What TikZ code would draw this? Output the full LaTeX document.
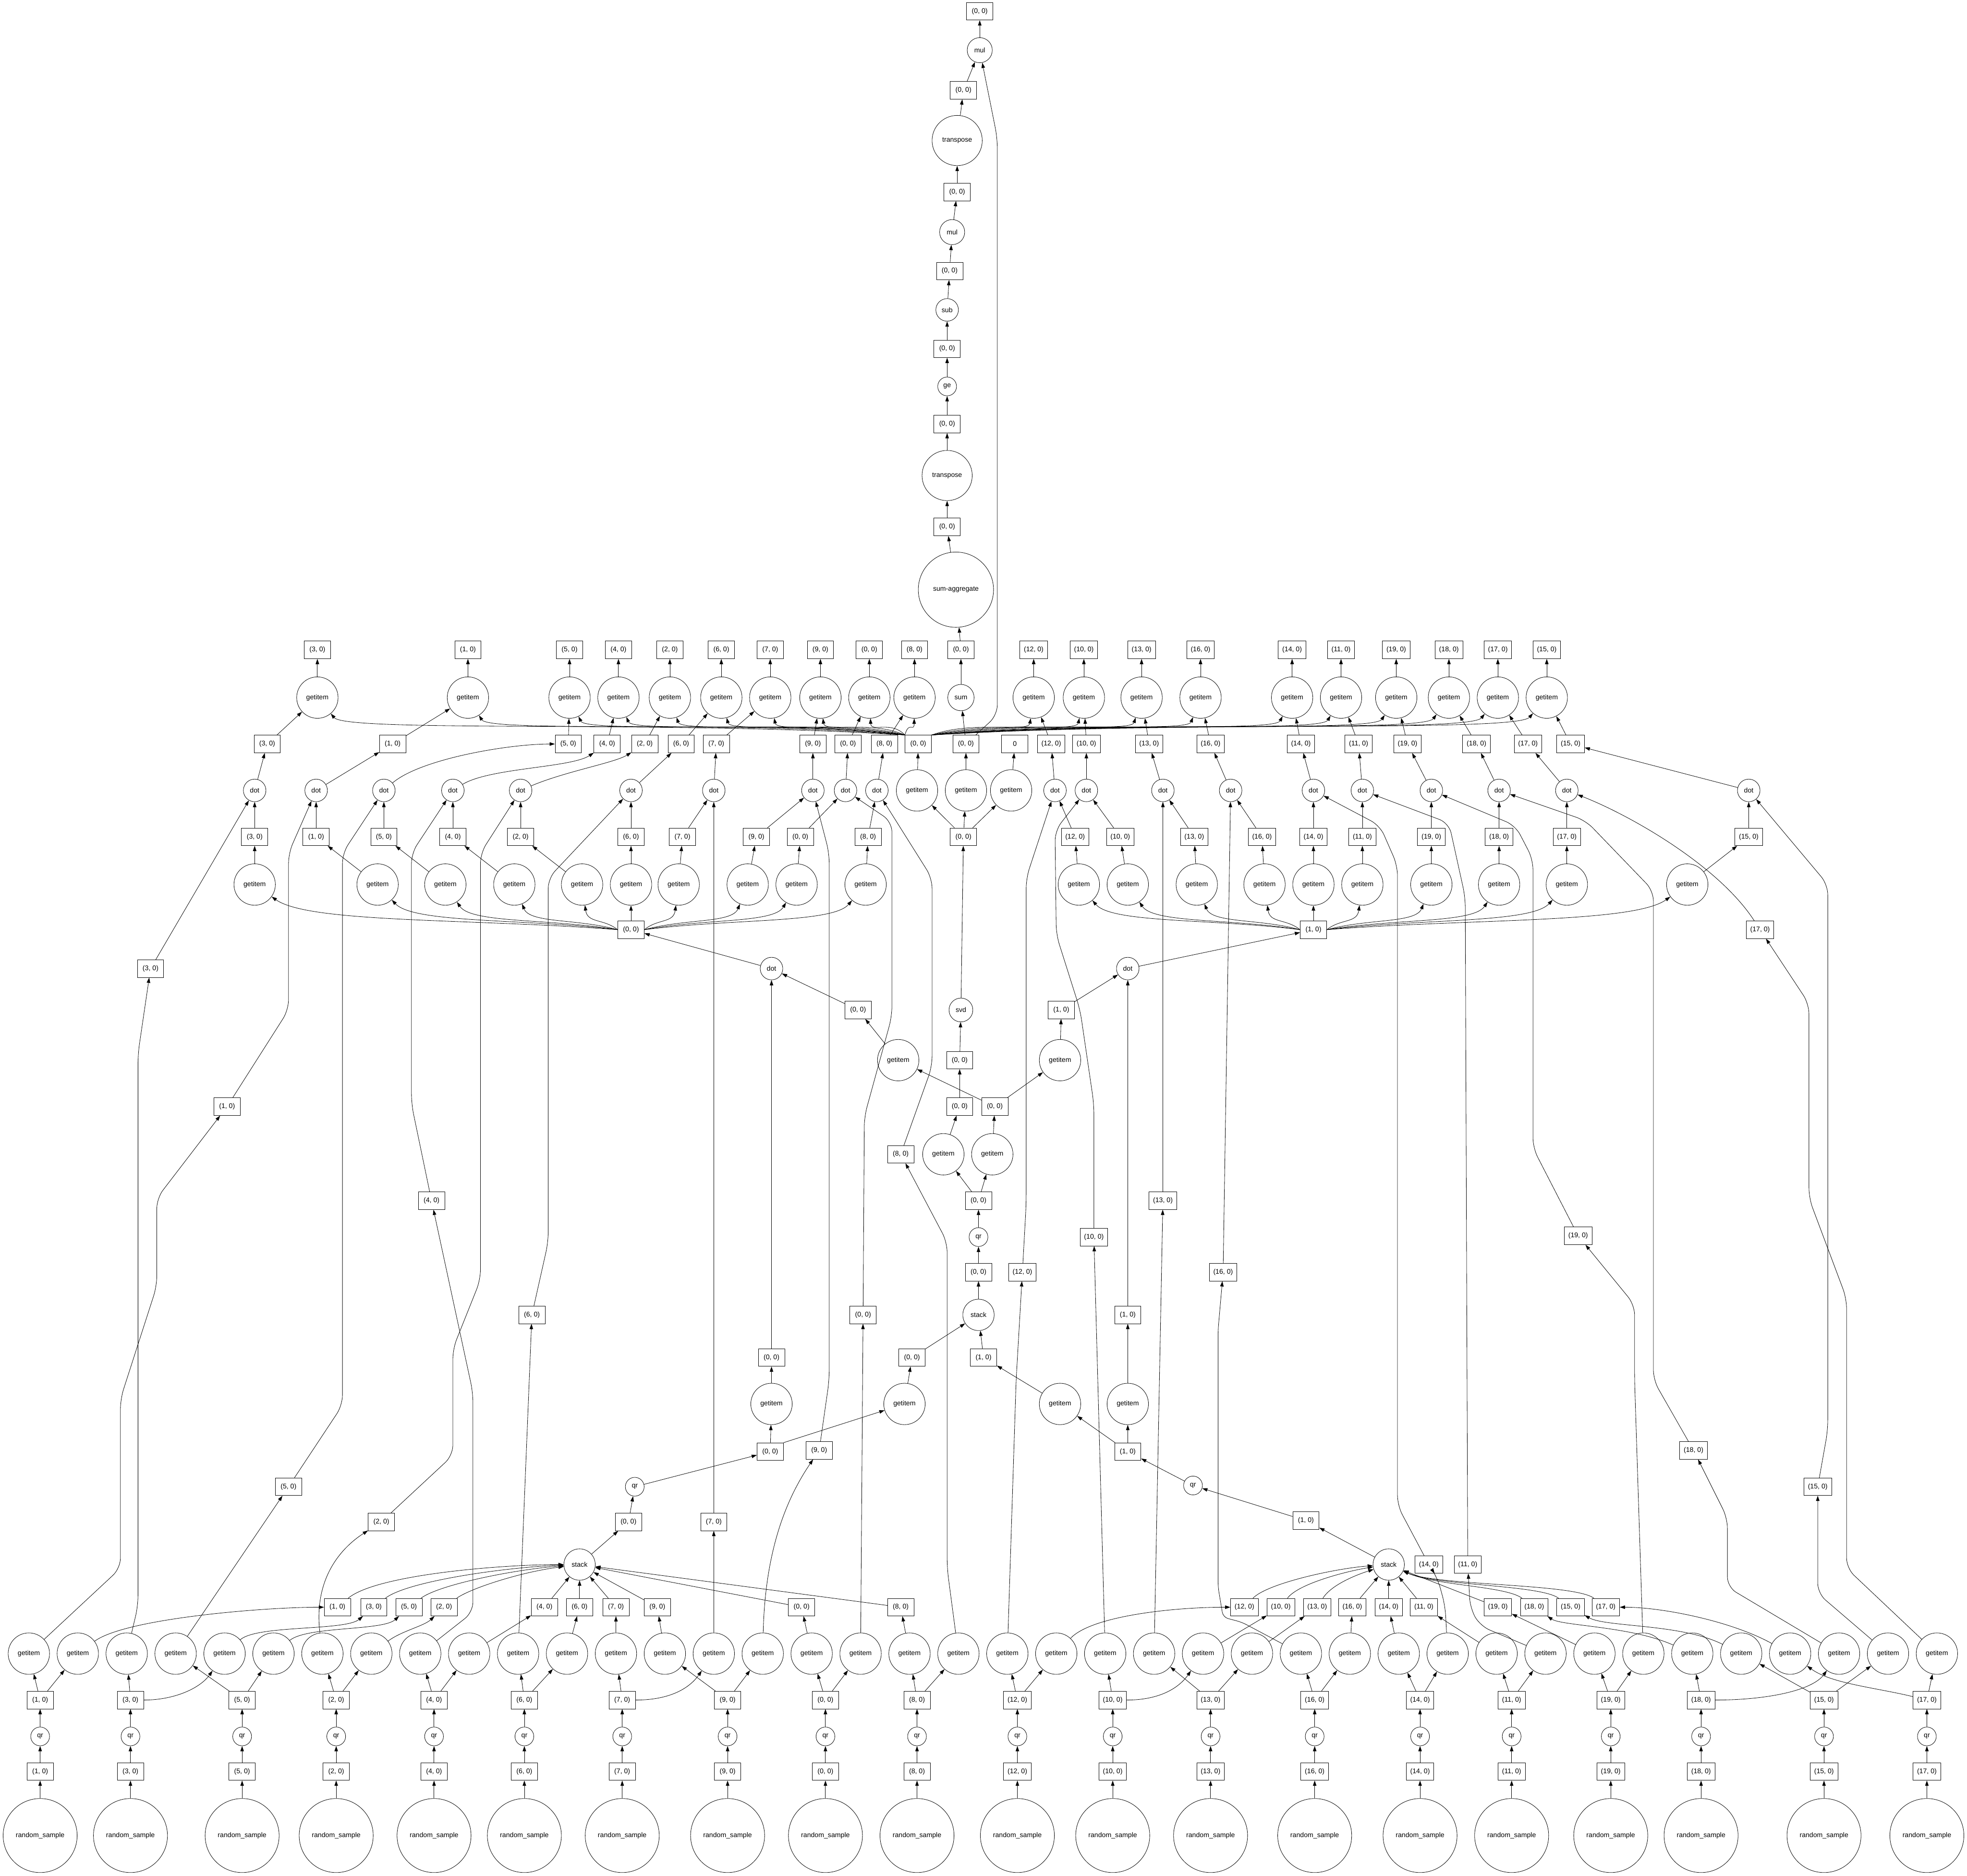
\documentclass[tikz,border=0pt]{standalone}
\usepackage{fontspec}
\setmainfont{Liberation Sans}
\usetikzlibrary{arrows.meta,calc}
\newcommand{\dgfont}{\fontsize{7.7}{9}\selectfont}

\begin{document}
\begin{tikzpicture}[x=0.5mm, y=-0.5mm,
  box/.style={draw, rectangle, line width=0.45pt, minimum width=10.5mm, minimum height=7mm,
    inner xsep=1.6mm, inner ysep=0pt, font=\dgfont},
  fn/.style={draw, circle, line width=0.45pt, inner sep=0pt, font=\dgfont},
  gi/.style={fn, minimum size=16.5mm},
  dotn/.style={fn, minimum size=9mm},
  qrn/.style={fn, minimum size=7.5mm},
  stk/.style={fn, minimum size=12.5mm},
  rsamp/.style={fn, minimum size=29.5mm},
  arr/.style={-{Triangle[length=2.1mm, width=1.4mm]}, line width=0.45pt},
  lane/.style={arr, rounded corners=4mm}]
\useasboundingbox (0,0) rectangle (1568,1495);

% final chain
\node[box] (t0) at (781,9) {(0, 0)};
\node[fn, minimum size=10mm] (tmul) at (781,40) {mul};
\node[box] (t1) at (768,72) {(0, 0)};
\node[fn, minimum size=20mm] (ttr) at (763,112) {transpose};
\node[box] (t2) at (763,153) {(0, 0)};
\node[fn, minimum size=10mm] (tmul2) at (759,185) {mul};
\node[box] (t3) at (757,216) {(0, 0)};
\node[fn, minimum size=9mm] (tsub) at (755,247) {sub};
\node[box] (t4) at (755,278) {(0, 0)};
\node[fn, minimum size=7.5mm] (tge) at (755,308) {ge};
\node[box] (t5) at (755,338) {(0, 0)};
\node[fn, minimum size=20mm] (ttr2) at (755,379) {transpose};
\node[box] (t6) at (755,420) {(0, 0)};
\node[fn, minimum size=30mm] (tagg) at (762,470) {sum-aggregate};
\node[box] (t7) at (766,518) {(0, 0)};
\node[fn, minimum size=10.5mm] (tsum) at (766,556) {sum};
\node[box] (t8) at (770,593) {(0, 0)};
\draw[arr] (t8) -- (tsum);
\draw[arr] (tsum) -- (t7);
\draw[arr] (t7) -- (tagg);
\draw[arr] (tagg) -- (t6);
\draw[arr] (t6) -- (ttr2);
\draw[arr] (ttr2) -- (t5);
\draw[arr] (t5) -- (tge);
\draw[arr] (tge) -- (t4);
\draw[arr] (t4) -- (tsub);
\draw[arr] (tsub) -- (t3);
\draw[arr] (t3) -- (tmul2);
\draw[arr] (tmul2) -- (t2);
\draw[arr] (t2) -- (ttr);
\draw[arr] (ttr) -- (t1);
\draw[arr] (t1) -- (tmul);
\draw[arr] (tmul) -- (t0);
\draw[lane] (t8) -- (795,570) -- (795,110) -- (tmul);

% svd part
\node[box] (hub0) at (732,593) {(0, 0)};
\node[box] (zero) at (809,593) {0};
\node[gi] (gH) at (731,630) {getitem};
\node[gi] (gA) at (770,630) {getitem};
\node[gi] (gZ) at (806,630) {getitem};
\node[box] (s0) at (768,667) {(0, 0)};
\node[box] (hubA) at (503,741) {(0, 0)};
\node[box] (hubB) at (1047,741) {(1, 0)};
\node[dotn] (dotL) at (615,772) {dot};
\node[dotn] (dotR) at (899,772) {dot};
\node[box] (bL) at (684,805) {(0, 0)};
\node[fn, minimum size=9.5mm] (svd) at (766,805) {svd};
\node[box] (bR) at (846,805) {(1, 0)};
\node[gi] (gL) at (716,845) {getitem};
\node[box] (v1) at (765,845) {(0, 0)};
\node[gi] (gR) at (845,845) {getitem};
\node[box] (v2) at (765,882) {(0, 0)};
\node[box] (v3) at (793,882) {(0, 0)};
\node[gi] (gv2) at (752,920) {getitem};
\node[gi] (gv3) at (791,920) {getitem};
\node[box] (f0) at (780,957) {(0, 0)};
\node[qrn] (fqr) at (780,986) {qr};
\node[box] (f1) at (780,1014) {(0, 0)};
\node[stk] (fst) at (780,1048) {stack};
\node[box] (bB1) at (899,1048) {(1, 0)};
\node[box] (bA1) at (615,1082) {(0, 0)};
\node[box] (bA2) at (727,1082) {(0, 0)};
\node[box] (bB2) at (784,1082) {(1, 0)};
\node[gi] (gA1) at (615,1119) {getitem};
\node[gi] (gA2) at (721,1119) {getitem};
\node[gi] (gB2) at (845,1119) {getitem};
\node[gi] (gB1) at (899,1119) {getitem};
\node[box] (sA2) at (614,1157) {(0, 0)};
\node[box] (sB2) at (899,1157) {(1, 0)};
\node[qrn] (qrA) at (506,1185) {qr};
\node[qrn] (qrB) at (951,1184) {qr};
\node[box] (sA1) at (501,1213) {(0, 0)};
\node[box] (sB1) at (1041,1212) {(1, 0)};
\node[stk] (stA) at (462,1247) {stack};
\node[stk] (stB) at (1107,1247) {stack};

\draw[arr] (s0) -- (gH);
\draw[arr] (s0) -- (gA);
\draw[arr] (s0) -- (gZ);
\draw[arr] (gH) -- (hub0);
\draw[arr] (gA) -- (t8);
\draw[arr] (gZ) -- (zero);
\draw[arr] (svd) -- (s0);
\draw[arr] (v1) -- (svd);
\draw[arr] (v2) -- (v1);
\draw[arr] (gv2) -- (v2);
\draw[arr] (gv3) -- (v3);
\draw[arr] (v3) -- (gL);
\draw[arr] (v3) -- (gR);
\draw[arr] (gL) -- (bL);
\draw[arr] (bL) -- (dotL);
\draw[arr] (gR) -- (bR);
\draw[arr] (bR) -- (dotR);
\draw[arr] (dotL) -- (hubA);
\draw[arr] (dotR) -- (hubB);
\draw[arr] (f0) -- (gv2);
\draw[arr] (f0) -- (gv3);
\draw[arr] (fqr) -- (f0);
\draw[arr] (f1) -- (fqr);
\draw[arr] (fst) -- (f1);
\draw[arr] (bA2) -- (fst);
\draw[arr] (bB2) -- (fst);
\draw[arr] (gA2) -- (bA2);
\draw[arr] (gB2) -- (bB2);
\draw[arr] (gA1) -- (bA1);
\draw[arr] (bA1) -- (dotL);
\draw[arr] (gB1) -- (bB1);
\draw[arr] (bB1) -- (dotR);
\draw[arr] (sA2) -- (gA1);
\draw[arr] (sA2.north east) -- (gA2);
\draw[arr] (sB2) -- (gB1);
\draw[arr] (sB2) -- (gB2);
\draw[arr] (sA1) -- (qrA);
\draw[arr] (qrA) -- (sA2);
\draw[arr] (stA) -- (sA1);
\draw[arr] (sB1) -- (qrB);
\draw[arr] (qrB) -- (sB2);
\draw[arr] (stB) -- (sB1);

% blocks: random_sample -> qr
\foreach \k/\x in {1/32,3/104,5/193,2/268,4/346,6/418,7/496,9/580,0/658,8/731,
    12/811,10/887,13/965,16/1048,14/1132,11/1205,19/1284,18/1356,15/1454,17/1536}{
  \node[rsamp] (rs\k) at (\x,1463) {random\_sample};
  \node[box] (in\k) at (\x,1412) {(\k, 0)};
  \node[qrn] (qr\k) at (\x,1384) {qr};
  \node[box] (out\k) at (\x,1355) {(\k, 0)};
  \draw[arr] (rs\k) -- (in\k);
  \draw[arr] (in\k) -- (qr\k);
  \draw[arr] (qr\k) -- (out\k);
}
\foreach \k/\q/\r in {1/23/62,3/101/179,5/140/218,2/257/296,4/335/374,6/413/452,7/569/491,
    9/608/530,0/686/647,8/764/725,12/803/842,10/881/959,13/920/998,16/1037/1076,
    14/1154/1115,11/1232/1193,19/1310/1271,18/1466/1349,15/1505/1388,17/1544/1427}{
  \node[gi] (qg\k) at (\q,1318) {getitem};
  \node[gi] (rg\k) at (\r,1318) {getitem};
}
\foreach \a/\b in {out1/qg1,out1/rg1,out3/qg3,out5/qg5,out5/rg5,out2/qg2,out2/rg2,out4/qg4,
    out4/rg4,out6/qg6,out6/rg6,out7/rg7,out9/rg9,out9/qg9,out0/rg0,out0/qg0,out8/rg8,out8/qg8,
    out12/qg12,out12/rg12,out10/qg10,out13/qg13,out13/rg13,out16/qg16,out16/rg16,out14/rg14,
    out14/qg14,out11/rg11,out11/qg11,out19/rg19,out19/qg19,out18/rg18,out15/rg15,out15/qg15,
    out17/qg17}
  \draw[arr] (\a) -- (\b);
\draw[arr] (out3) .. controls (140,1355) and (160,1345) .. (rg3);
\draw[arr] (out7) .. controls (535,1355) and (550,1345) .. (qg7);
\draw[arr] (out10) .. controls (925,1355) and (940,1345) .. (rg10);
\draw[arr] (out18) .. controls (1410,1355) and (1445,1347) .. (qg18);
\draw[arr] (out17) .. controls (1495,1345) and (1460,1342) .. (rg17);

% R factors into the two stacks
\foreach \k/\x in {1/269,3/298,5/326,2/354,4/434,6/462,7/491,9/524,0/639,8/718,
    12/992,10/1021,13/1050,16/1078,14/1107,11/1135,19/1194,18/1223,15/1252,17/1280}
  \node[box] (R\k) at (\x,1281) {(\k, 0)};
\foreach \k in {4,6,7,9,0,8,10,13,16,14,11,19}
  \draw[arr] (rg\k) -- (R\k);
\draw[arr] (rg1) .. controls (100,1290) and (210,1281) .. (R1);
\draw[arr] (rg3) .. controls (205,1295) and (275,1300) .. (R3);
\draw[arr] (rg5) .. controls (245,1296) and (305,1300) .. (R5);
\draw[arr] (rg2) .. controls (320,1300) and (338,1296) .. (R2);
\draw[arr] (rg12) .. controls (870,1288) and (935,1281) .. (R12);
\draw[arr] (rg18) .. controls (1300,1296) and (1245,1296) .. (R18);
\draw[arr] (rg15) .. controls (1340,1294) and (1280,1297) .. (R15);
\draw[arr] (rg17) .. controls (1380,1292) and (1325,1281) .. (R17);
\foreach \k in {4,6,7,9,0,8}
  \draw[arr] (R\k) -- (stA);
\draw[arr] (R1) .. controls (300,1255) and (400,1247) .. (stA);
\draw[arr] (R3) .. controls (325,1260) and (405,1249) .. (stA);
\draw[arr] (R5) .. controls (350,1263) and (410,1251) .. (stA);
\draw[arr] (R2) .. controls (375,1266) and (415,1253) .. (stA);
\foreach \k in {16,14,11,19}
  \draw[arr] (R\k) -- (stB);
\draw[arr] (R12) .. controls (1010,1262) and (1065,1250) .. (stB);
\draw[arr] (R10) .. controls (1035,1262) and (1075,1252) .. (stB);
\draw[arr] (R13) .. controls (1062,1262) and (1085,1254) .. (stB);
\draw[arr] (R18) .. controls (1200,1264) and (1145,1264) .. (stB);
\draw[arr] (R15) .. controls (1228,1263) and (1145,1264) .. (stB);
\draw[arr] (R17) .. controls (1255,1262) and (1145,1264) .. (stB);

% upper rows: getitem, dot, getitem
\foreach \k/\tx/\ddx/\dx/\mx/\gx in {3/253/213/203/203/203,1/373/313/252/252/301,
    5/454/453/306/306/355,4/493/484/361/361/410,2/534/514/415/415/464,6/575/543/503/503/503,
    7/614/571/569/544/541,9/654/648/648/603/596,0/693/676/674/638/635,8/729/705/699/692/690,
    12/824/838/841/857/860,10/864/866/866/893/899,13/910/916/927/952/954,
    16/957/965/981/1006/1008,14/1030/1037/1047/1047/1047,11/1069/1083/1086/1086/1086,
    19/1113/1122/1141/1141/1141,18/1155/1177/1195/1195/1195,17/1194/1218/1249/1249/1249,
    15/1233/1252/1394/1394/1345}{
  \node[gi] (T\k) at (\tx,556) {getitem};
  \node[box] (L\k) at (\tx,518) {(\k, 0)};
  \node[box] (D\k) at (\ddx,593) {(\k, 0)};
  \node[dotn] (dot\k) at (\dx,630) {dot};
  \node[box] (M\k) at (\mx,667) {(\k, 0)};
  \node[gi] (G\k) at (\gx,705) {getitem};
  \draw[arr] (T\k) -- (L\k);
  \draw[arr] (D\k) -- (T\k);
  \draw[arr] (M\k) -- (dot\k);
  \draw[arr] (G\k) -- (M\k);
}
\foreach \k in {3,1,6,7,9,0,8,12,10,13,16,14,11,19,18,17,15}
  \draw[arr] (dot\k) -- (D\k);
\draw[arr] (dot5) .. controls (335,605) and (405,593) .. (D5);
\draw[arr] (dot4) .. controls (390,612) and (455,612) .. (D4);
\draw[arr] (dot2) .. controls (450,615) and (490,608) .. (D2);

% hubs fan out
\foreach \k/\tx in {3/253,1/373,5/454,4/493,2/534,6/575,7/614,9/654,0/693,8/729}{
  \pgfmathsetmacro\ca{721.5+0.4*(\tx-721.5)}
  \pgfmathsetmacro\cb{\tx+0.05*(721.5-\tx)}
  \draw[arr] (hub0.north west) .. controls (\ca,574) and (\cb,584) .. (T\k);
}
\foreach \k/\tx in {12/824,10/864,13/910,16/957,14/1030,11/1069,19/1113,18/1155,17/1194,15/1233}{
  \pgfmathsetmacro\ca{742.5+0.4*(\tx-742.5)}
  \pgfmathsetmacro\cb{\tx+0.05*(742.5-\tx)}
  \draw[arr] (hub0.north east) .. controls (\ca,574) and (\cb,584) .. (T\k);
}
\foreach \k/\gx in {3/203,1/301,5/355,4/410,2/464}{
  \pgfmathsetmacro\ca{492.5+0.4*(\gx-492.5)}
  \pgfmathsetmacro\cb{\gx+0.15*(492.5-\gx)}
  \draw[arr] (hubA.west) .. controls (\ca,732) and (\cb,736) .. (G\k);
}
\foreach \k/\gx in {7/541,9/596,0/635,8/690}{
  \pgfmathsetmacro\ca{513.5+0.4*(\gx-513.5)}
  \pgfmathsetmacro\cb{\gx+0.15*(513.5-\gx)}
  \draw[arr] (hubA.east) .. controls (\ca,732) and (\cb,736) .. (G\k);
}
\draw[arr] (hubA) -- (G6);
\foreach \k/\gx in {12/860,10/899,13/954,16/1008}{
  \pgfmathsetmacro\ca{1036.5+0.4*(\gx-1036.5)}
  \pgfmathsetmacro\cb{\gx+0.15*(1036.5-\gx)}
  \draw[arr] (hubB.west) .. controls (\ca,732) and (\cb,736) .. (G\k);
}
\foreach \k/\gx in {11/1086,19/1141,18/1195,17/1249,15/1345}{
  \pgfmathsetmacro\ca{1057.5+0.4*(\gx-1057.5)}
  \pgfmathsetmacro\cb{\gx+0.15*(1057.5-\gx)}
  \draw[arr] (hubB.east) .. controls (\ca,732) and (\cb,736) .. (G\k);
}
\draw[arr] (hubB) -- (G14);

% Q factors: long lanes up to the dots
\node[box] (Q3) at (120,772) {(3, 0)};
\node[box] (Q1) at (181,882) {(1, 0)};
\node[box] (Q4) at (344,957) {(4, 0)};
\node[box] (Q6) at (424,1048) {(6, 0)};
\node[box] (Q5) at (230,1185) {(5, 0)};
\node[box] (Q2) at (304,1213) {(2, 0)};
\node[box] (Q7) at (569,1213) {(7, 0)};
\node[box] (Q9) at (653,1156) {(9, 0)};
\node[box] (Q0) at (688,1048) {(0, 0)};
\node[box] (Q8) at (718,920) {(8, 0)};
\node[box] (Q12) at (815,1014) {(12, 0)};
\node[box] (Q10) at (872,986) {(10, 0)};
\node[box] (Q13) at (927,957) {(13, 0)};
\node[box] (Q16) at (975,1014) {(16, 0)};
\node[box] (Q14) at (1139,1247) {(14, 0)};
\node[box] (Q11) at (1170,1247) {(11, 0)};
\node[box] (Q19) at (1258,985) {(19, 0)};
\node[box] (Q18) at (1350,1156) {(18, 0)};
\node[box] (Q15) at (1449,1185) {(15, 0)};
\node[box] (Q17) at (1403,741) {(17, 0)};

\draw[lane] (qg1) -- (96,1250) -- (96,1115) -- (125,1025) -- (125,955) -- (Q1);
\draw[lane] (Q1) -- (230,805) -- (230,680) -- (dot1);
\draw[lane] (qg3) -- (110,1280) -- (110,840) -- (Q3);
\draw[arr] (Q3) -- (dot3);
\draw[arr] (qg5) -- (Q5);
\draw[lane] (Q5) -- (273,1120) -- (273,680) -- (dot5);
\draw[arr] (qg2) .. controls (250,1260) and (270,1235) .. (Q2);
\draw[lane] (Q2) -- (361,1160) -- (361,1075) -- (383,1020) -- (383,680) -- (dot2);
\draw[lane] (qg4) -- (377,1285) -- (377,1110) -- (Q4);
\draw[lane] (Q4) -- (328,880) -- (328,680) -- (dot4);
\draw[arr] (qg6) -- (Q6);
\draw[lane] (Q6) -- (437,990) -- (437,700) -- (dot6);
\draw[arr] (qg7) -- (Q7);
\draw[arr] (Q7) -- (dot7);
\draw[arr] (qg9) .. controls (610,1230) and (630,1190) .. (Q9);
\draw[lane] (Q9) -- (661,1100) -- (661,680) -- (dot9);
\draw[arr] (qg0) -- (Q0);
\draw[lane] (Q0) -- (689,890) -- (711,810) -- (711,655) -- (dot0);
\draw[lane] (qg8) -- (755,1250) -- (755,990) -- (Q8);
\draw[lane] (Q8) -- (743,850) -- (743,700) -- (dot8);
\draw[lane] (qg12) -- (810,1100) -- (Q12);
\draw[lane] (Q12) -- (818,960) -- (818,700) -- (dot12);
\draw[arr] (qg10) -- (Q10);
\draw[lane] (Q10) -- (872,880) -- (861,805) -- (842,745) -- (841,662) -- (dot10);
\draw[arr] (qg13) -- (Q13);
\draw[arr] (Q13) -- (dot13);
\draw[arr, rounded corners=2mm] (qg16) -- (990,1293) -- (975,1289) -- (971,1265) -- (971,1060) -- (Q16);
\draw[arr] (Q16) -- (dot16);
\draw[lane] (qg14) -- (1152,1280) -- (1146,1258) -- (Q14);
\draw[lane] (Q14) -- (1114,1200) -- (1114,690) -- (1100,658) -- (dot14);
\draw[lane] (qg11) -- (1180,1296) -- (1172,1282) -- (Q11);
\draw[lane] (Q11) -- (1168,715) -- (1155,656) -- (dot11);
\draw[lane] (qg19) -- (1303,1100) -- (1303,1040) -- (Q19);
\draw[lane] (Q19) -- (1222,915) -- (1222,685) -- (1208,658) -- (dot19);
\draw[lane] (qg18) -- (1377,1265) -- (1377,1210) -- (Q18);
\draw[lane] (Q18) -- (1318,1100) -- (1318,710) -- (1264,654) -- (dot18);
\draw[lane] (qg15) -- (1449,1270) -- (Q15);
\draw[lane] (Q15) -- (1457,1140) -- (1457,705) -- (dot15);
\draw[lane] (qg17) -- (1472,1250) -- (1472,1035) -- (1442,955) -- (1442,800) -- (Q17);
\draw[arr] (Q17) .. controls (1370,690) and (1300,650) .. (dot17);
\end{tikzpicture}
\end{document}
